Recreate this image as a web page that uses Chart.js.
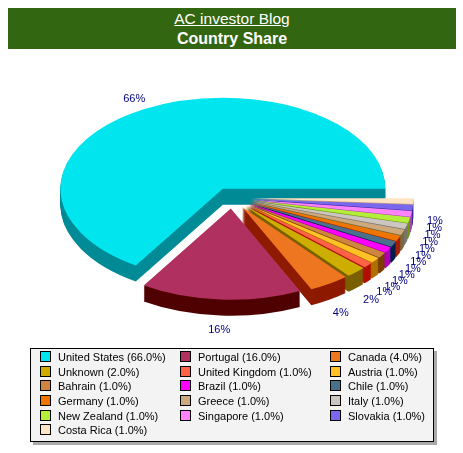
<!DOCTYPE html>
<html lang="en">
<head>
    <meta charset="UTF-8">
    <title>Country Share</title>
    <style>
        body { margin: 0; background: #fff; font-family: "Liberation Sans", Arial, sans-serif; }
        #page { position: relative; width: 463px; height: 453px; overflow: hidden; }
        #pie { position: absolute; left: 0; top: 0; }
        #banner {
            position: absolute; left: 8px; top: 8px; width: 448px; height: 41px;
            background: #336611; color: #fff; text-align: center;
        }
        #banner .blog { font-size: 15.5px; line-height: 19px; padding-top: 1px; text-decoration: underline; }
        #banner .name { font-size: 16px; line-height: 19px; padding-top: 1px; font-weight: bold; }
        #legendBox {
            position: absolute; left: 30px; top: 348px; width: 402px; height: 92px;
            background: #f3f3f3; border: 1px solid #000; box-shadow: 3px 3px 0 #aaa;
        }
        .item { position: absolute; font-size: 11px; line-height: 14px; color: #000; white-space: nowrap; }
        .item i {
            position: absolute; left: -18px; top: 1px; width: 9px; height: 9px; border: 1px solid #000;
        }
    </style>
    <script src="https://cdn.jsdelivr.net/npm/chart.js"></script>
</head>
<body>
    <div id="page">
        <canvas id="pie" width="463" height="453"></canvas>
        <div id="banner">
            <div class="blog">AC investor Blog</div>
            <div class="name">Country Share</div>
        </div>
        <div id="legendBox"></div>
    </div>
    <script>
        const categories = ['United States', 'Portugal', 'Canada', 'Unknown', 'United Kingdom', 'Austria', 'Bahrain', 'Brazil',
            'Chile', 'Germany', 'Greece', 'Italy', 'New Zealand', 'Singapore', 'Slovakia', 'Costa Rica'];
        const shares = [66, 16, 4, 2, 1, 1, 1, 1, 1, 1, 1, 1, 1, 1, 1, 1];
        const topColors = ['#00e5ee', '#b03060', '#ee7621', '#cdad00', '#ff6347', '#ffc125', '#cd853f', '#ff00ff',
            '#4a708b', '#ee7600', '#cdaa7d', '#cdc5bf', '#b3ee3a', '#ff83fa', '#7a67ee', '#ffe4c4'];
        const sideColors = ['#008b96', '#500000', '#8e1a00', '#7a6000', '#b01000', '#b07000', '#7a3e00', '#b000b0',
            '#002050', '#a52000', '#7a6a40', '#7a7570', '#6a9a10', '#b040b0', '#3a2aa0', '#c0a080'];

        // legend columns and rows, filled left to right
        const legendColumns = [27, 167, 317];
        const legendRows = [1, 16, 30, 45, 60, 74];

        const squash = 0.56;
        const depth = 16;
        const explode = 19;
        const centerY = 198;
        const labelRadius = 203;

        const legendBox = document.getElementById('legendBox');
        categories.forEach((name, i) => {
            const item = document.createElement('div');
            item.className = 'item';
            item.style.left = legendColumns[i % 3] + 'px';
            item.style.top = legendRows[Math.floor(i / 3)] + 'px';
            const swatch = document.createElement('i');
            swatch.style.background = topColors[i];
            item.appendChild(swatch);
            item.appendChild(document.createTextNode(name + ' (' + shares[i].toFixed(1) + '%)'));
            legendBox.appendChild(item);
        });

        // Chart.js pies are round and run clockwise, so flip and tilt it here,
        // pull the slices apart and add the side walls
        const tiltPlugin = {
            id: 'tilt',
            beforeDatasetDraw(chart, args) {
                const ctx = chart.ctx;
                const arcs = args.meta.data;
                const drawAt = (arc, d) => {
                    const mid = (arc.startAngle + arc.endAngle) / 2;
                    ctx.save();
                    ctx.translate(0, centerY + d);
                    ctx.scale(1, -squash);
                    ctx.translate(Math.cos(mid) * explode, Math.sin(mid) * explode - arc.y);
                    arc.draw(ctx);
                    ctx.restore();
                };
                // back to front: the big slice first, then from the far small slice to the near ones
                const order = arcs.map((arc, i) => i).slice(1).reverse();
                order.unshift(0);
                order.forEach(i => {
                    const arc = arcs[i];
                    const faceOptions = arc.options;
                    arc.options = Object.assign({}, faceOptions, { backgroundColor: sideColors[i] });
                    for (let d = depth; d > 0; d--) {
                        drawAt(arc, d);
                    }
                    arc.options = faceOptions;
                    drawAt(arc, 0);
                });
                return false;
            },
            afterDatasetsDraw(chart) {
                const ctx = chart.ctx;
                ctx.save();
                ctx.font = '11px "Liberation Sans", Arial, sans-serif';
                ctx.fillStyle = '#000080';
                ctx.textAlign = 'center';
                ctx.textBaseline = 'middle';
                chart.getDatasetMeta(0).data.forEach((arc, i) => {
                    const mid = (arc.startAngle + arc.endAngle) / 2;
                    const sin = -Math.sin(mid);
                    const x = arc.x + labelRadius * Math.cos(mid);
                    const y = centerY + labelRadius * squash * sin + (sin > 0 ? depth + 3 : 1);
                    ctx.fillText(shares[i] + '%', x, y);
                });
                ctx.restore();
            }
        };

        new Chart(document.getElementById('pie'), {
            type: 'pie',
            data: {
                labels: categories,
                datasets: [{
                    data: shares,
                    backgroundColor: topColors,
                    borderWidth: 0,
                    hoverOffset: 0
                }]
            },
            options: {
                responsive: false,
                animation: false,
                radius: 162.5,
                rotation: 90,
                layout: { padding: { left: 1, right: 0 } },
                events: [],
                plugins: { legend: { display: false }, tooltip: { enabled: false } }
            },
            plugins: [tiltPlugin]
        });
    </script>
</body>
</html>
